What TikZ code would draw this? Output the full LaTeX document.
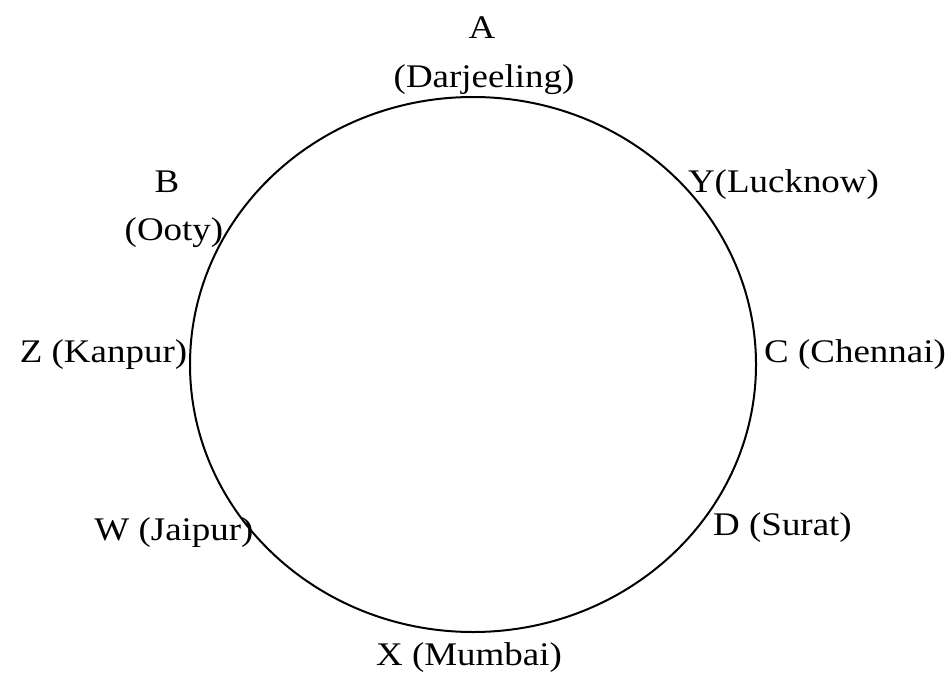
\documentclass[tikz,border=0pt]{standalone}
\usepackage{fontspec}
\setmainfont{Liberation Serif}
\usetikzlibrary{shapes.geometric}
\newcommand\wlbl[1]{\scalebox{1.12}[1]{#1}}
\begin{document}
\begin{tikzpicture}[x=1pt,y=-1pt,
  lbl/.style={anchor=base,inner sep=0pt,font=\fontsize{33}{40}\selectfont}]
\useasboundingbox (0,0) rectangle (952,677);
\node[draw,ellipse,line width=2pt,minimum width=566pt,minimum height=535pt,inner sep=0pt] (ring) at (473,364.5) {};
\node[lbl] (a) at (482,39) {\wlbl{A}};
\node[lbl] (a2) at (484,87) {\wlbl{(Darjeeling)}};
\node[lbl] (b) at (167,192) {\wlbl{B}};
\node[lbl] (b2) at (174,240) {\wlbl{(Ooty)}};
\node[lbl] (y) at (783.5,192) {\wlbl{Y(Lucknow)}};
\node[lbl] (z) at (103.5,362) {\wlbl{Z (Kanpur)}};
\node[lbl] (c) at (855,362) {\wlbl{C (Chennai)}};
\node[lbl] (w) at (174,540) {\wlbl{W (Jaipur)}};
\node[lbl] (d) at (782.5,535) {\wlbl{D (Surat)}};
\node[lbl] (x) at (469,665) {\wlbl{X (Mumbai)}};
\end{tikzpicture}
\end{document}
